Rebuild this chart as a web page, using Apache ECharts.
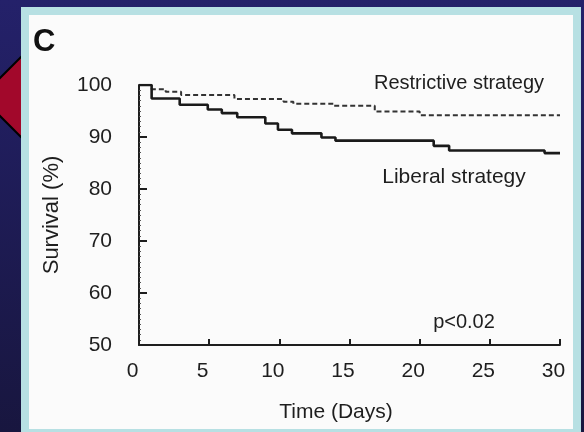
<!DOCTYPE html>
<html>
<head>
<meta charset="utf-8">
<script src="https://cdn.jsdelivr.net/npm/echarts@6/dist/echarts.min.js"></script>
<style>
  html, body { margin: 0; padding: 0; background: #1d1b52; }
  #chart { width: 584px; height: 432px; }
</style>
</head>
<body>
<div id="chart"></div>
<script>
// Kaplan-Meier survival, 30 days: time of each step (days) and survival after it (%)
const liberalDays = [0, 0.9, 2.9, 4.9, 5.9, 7.0, 9.0, 9.9, 10.9, 13.0, 14.0, 21.0, 22.1, 28.9, 30];
const liberalSurvival = [100, 97.4, 96.2, 95.3, 94.6, 93.8, 92.6, 91.4, 90.7, 89.9, 89.3, 88.3, 87.4, 86.9, 86.9];

const restrictiveDays = [0, 0.9, 1.9, 3.0, 6.8, 10.3, 11.0, 13.9, 16.8, 20.0, 30];
const restrictiveSurvival = [100, 99.2, 98.7, 98.1, 97.3, 96.8, 96.4, 96.0, 94.9, 94.2, 94.2];

const xTicks = [0, 5, 10, 15, 20, 25, 30];
const yTicks = [50, 60, 70, 80, 90, 100];

const panelLetter = 'C';
const restrictiveLabel = 'Restrictive strategy';
const liberalLabel = 'Liberal strategy';
const pValueLabel = 'p<0.02';

const toPairs = (xs, ys) => xs.map((x, i) => [x, ys[i]]);

const ink = '#1e1e1e';
const font = 'Liberation Sans, Arial, sans-serif';

const chart = echarts.init(document.getElementById('chart'), null, { renderer: 'canvas' });

chart.setOption({
  animation: false,
  backgroundColor: {
    type: 'linear', x: 0, y: 0, x2: 0, y2: 1,
    colorStops: [{ offset: 0, color: '#24216a' }, { offset: 1, color: '#18163f' }]
  },
  graphic: [
    // red pointer on the slide edge
    {
      type: 'polygon', z: -3,
      shape: { points: [[22, 56], [-19, 97], [22, 138]] },
      style: { fill: '#a2082b', stroke: '#000', lineWidth: 2 }
    },
    // light cyan frame and white panel
    {
      type: 'rect', z: -2,
      shape: { x: 21, y: 7, width: 560, height: 430 },
      style: { fill: '#b7e0e3' }
    },
    {
      type: 'rect', z: -1,
      shape: { x: 29, y: 15, width: 544, height: 414 },
      style: { fill: '#fbfbfb' }
    },
    {
      type: 'text', z: 10, left: 33, top: 27,
      style: { text: panelLetter, font: 'bold 31px ' + font, fill: '#111' }
    },
    {
      type: 'text', z: 10, x: 459, y: 83,
      style: { text: restrictiveLabel, font: '20px ' + font, fill: ink, align: 'center', verticalAlign: 'middle' }
    },
    {
      type: 'text', z: 10, x: 454, y: 177,
      style: { text: liberalLabel, font: '21px ' + font, fill: ink, align: 'center', verticalAlign: 'middle' }
    },
    {
      type: 'text', z: 10, x: 464, y: 322,
      style: { text: pValueLabel, font: '20px ' + font, fill: ink, align: 'center', verticalAlign: 'middle' }
    }
  ],
  grid: { left: 139, right: 24, top: 85, bottom: 87, containLabel: false },
  xAxis: {
    type: 'value',
    min: xTicks[0], max: xTicks[xTicks.length - 1], interval: 5,
    name: 'Time (Days)',
    nameLocation: 'middle',
    nameGap: 57,
    nameTextStyle: { fontFamily: font, fontSize: 21, color: ink, padding: [0, 27, 0, 0] },
    axisLine: { show: true, onZero: false, lineStyle: { color: ink, width: 2 } },
    axisTick: { show: true, inside: true, length: 6, lineStyle: { color: ink, width: 2 } },
    axisLabel: { fontFamily: font, fontSize: 21, color: ink, margin: 16, padding: [0, 13, 0, 0] },
    splitLine: { show: false }
  },
  yAxis: {
    type: 'value',
    min: yTicks[0], max: yTicks[yTicks.length - 1], interval: 10,
    name: 'Survival (%)',
    nameLocation: 'middle',
    nameGap: 76,
    nameRotate: 90,
    nameTextStyle: { fontFamily: font, fontSize: 22, color: ink },
    axisLine: { show: true, lineStyle: { color: ink, width: 2 } },
    axisTick: { show: true, inside: true, length: 8, lineStyle: { color: ink, width: 2 } },
    minorTick: { show: true, splitNumber: 10, length: 2, lineStyle: { color: '#555', width: 1 } },
    axisLabel: { fontFamily: font, fontSize: 21, color: ink, margin: 27, padding: [8, 0, 0, 0] },
    splitLine: { show: false }
  },
  series: [
    {
      name: liberalLabel,
      type: 'line',
      step: 'end',
      symbol: 'none',
      data: toPairs(liberalDays, liberalSurvival),
      lineStyle: { color: '#1a1a1a', width: 2.6, type: 'solid' },
      z: 3
    },
    {
      name: restrictiveLabel,
      type: 'line',
      step: 'end',
      symbol: 'none',
      data: toPairs(restrictiveDays, restrictiveSurvival),
      lineStyle: { color: '#333', width: 2, type: [5, 3] },
      z: 2
    }
  ]
});
</script>
</body>
</html>
